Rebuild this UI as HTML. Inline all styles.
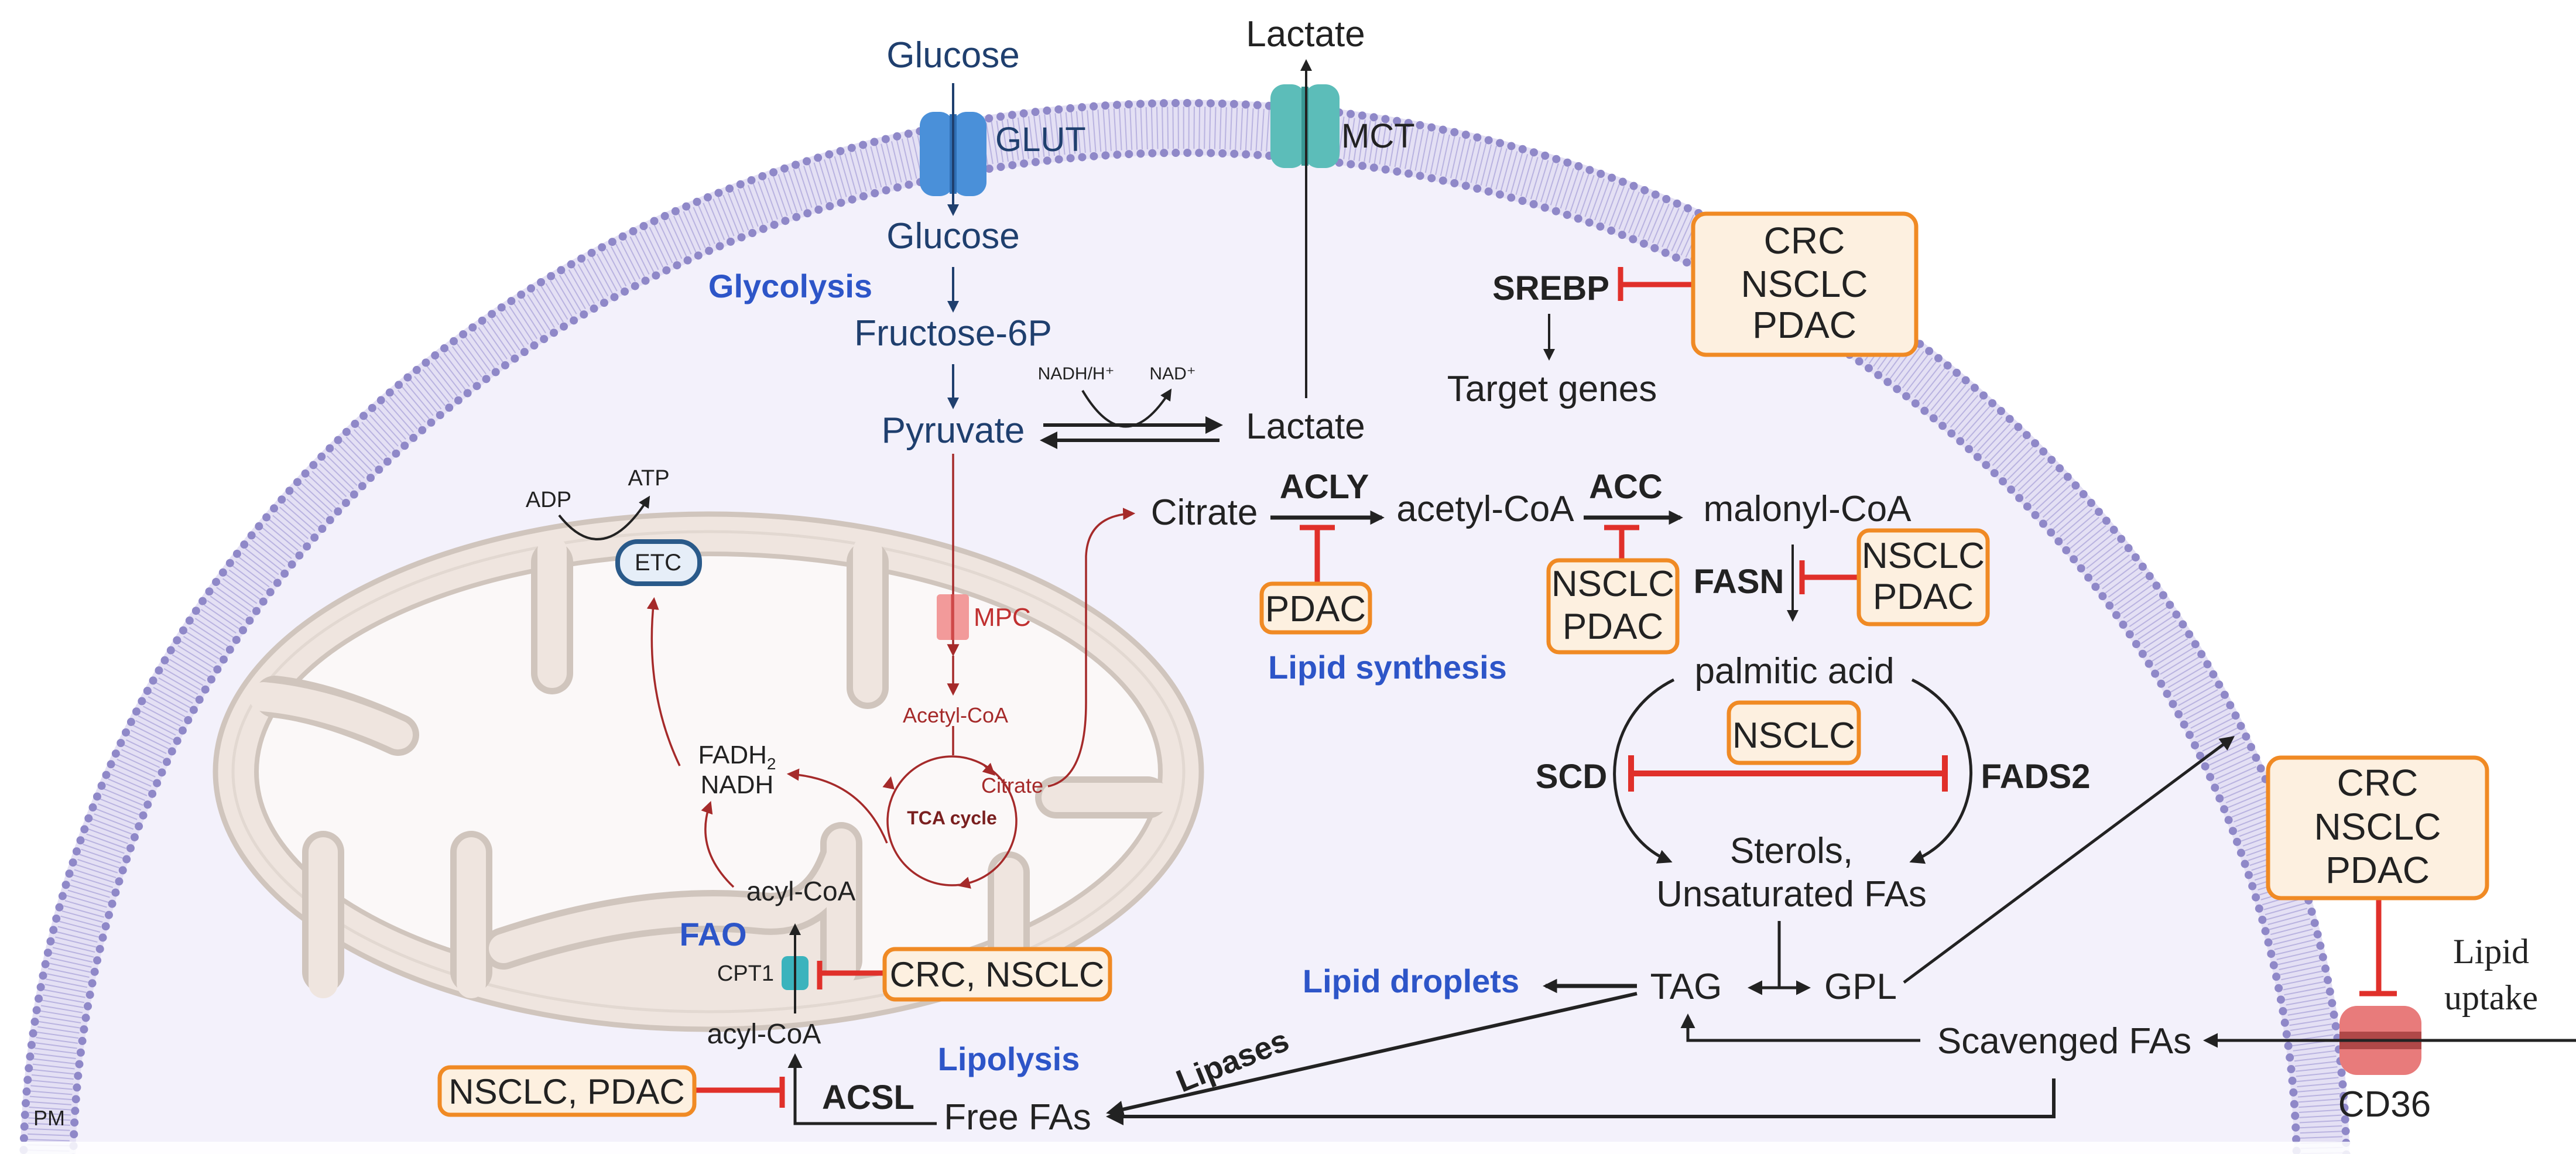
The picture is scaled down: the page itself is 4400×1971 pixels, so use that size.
<!DOCTYPE html>
<html><head><meta charset="utf-8"><style>
html,body{margin:0;padding:0;background:#fff;overflow:hidden}
svg{display:block}
text{font-family:"Liberation Sans",Arial,sans-serif}
</style></head><body>
<svg width="4400" height="1971" viewBox="0 0 4400 1971" xmlns="http://www.w3.org/2000/svg">
<defs>
<marker id="ak" viewBox="0 0 10 10" refX="8" refY="5" markerWidth="5" markerHeight="5" orient="auto-start-reverse" markerUnits="strokeWidth"><path d="M0,0 L10,5 L0,10 Z" fill="#222"/></marker>
<marker id="ak2" viewBox="0 0 10 10" refX="8" refY="5" markerWidth="3.5" markerHeight="3.5" orient="auto-start-reverse" markerUnits="strokeWidth"><path d="M0,0 L10,5 L0,10 Z" fill="#222"/></marker>
<marker id="an" viewBox="0 0 10 10" refX="8" refY="5" markerWidth="5" markerHeight="5" orient="auto" markerUnits="strokeWidth"><path d="M0,0 L10,5 L0,10 Z" fill="#1f3f6e"/></marker>
<marker id="ar" viewBox="0 0 10 10" refX="8" refY="5" markerWidth="6" markerHeight="6" orient="auto" markerUnits="strokeWidth"><path d="M0,0 L10,5 L0,10 Z" fill="#a52a2a"/></marker>
<clipPath id="mc"><ellipse cx="1210" cy="1318" rx="808" ry="406"/></clipPath>
</defs>
<rect width="4400" height="1971" fill="#fff"/>
<!-- cell -->
<ellipse cx="2024" cy="2000" rx="1942" ry="1782" fill="none" stroke="#e4e0f4" stroke-width="95"/>
<ellipse cx="2024" cy="2000" rx="1942" ry="1782" fill="none" stroke="#b9b3e0" stroke-width="72" stroke-dasharray="2 7"/>
<ellipse cx="2024" cy="2000" rx="1895" ry="1735" fill="#f3f1fb"/>
<ellipse cx="2024" cy="2000" rx="1984" ry="1824" fill="none" stroke="#8f88c8" stroke-width="14" stroke-dasharray="0 20" stroke-linecap="round"/>
<ellipse cx="2024" cy="2000" rx="1899" ry="1739" fill="none" stroke="#8f88c8" stroke-width="14" stroke-dasharray="0 20" stroke-linecap="round"/>
<rect x="0" y="1950" width="4400" height="21" fill="#fff" opacity="0.85"/>

<!-- mitochondrion -->
<ellipse cx="1210" cy="1318" rx="842" ry="440" fill="#efe5df" stroke="#d0c5bd" stroke-width="9"/>
<ellipse cx="1210" cy="1318" rx="812" ry="410" fill="none" stroke="#e2d8d1" stroke-width="5"/>
<ellipse cx="1210" cy="1318" rx="772" ry="372" fill="#fbf8f8" stroke="#d0c5bd" stroke-width="8"/>
<g clip-path="url(#mc)">
<path d="M760,1720 L860,1620 Q1100,1540 1300,1560 Q1400,1570 1437,1460 L1437,1720 Z" fill="#efe5df"/>
</g>
<g fill="none" stroke-linecap="round" stroke-linejoin="round">
<g stroke="#d0c5bd" stroke-width="72">
<path d="M943,960 L943,1150"/><path d="M1482,960 L1482,1175"/>
<path d="M470,1190 Q560,1200 680,1255"/>
<path d="M552,1660 L552,1455"/><path d="M805,1660 L805,1455"/>
<path d="M1437,1640 L1437,1440"/><path d="M1723,1640 L1723,1490"/>
<path d="M1960,1362 L1804,1362"/>
<path d="M860,1620 Q1100,1540 1300,1560 Q1400,1570 1437,1460"/>
</g>
<g stroke="#efe5df" stroke-width="50">
<path d="M943,940 L943,1150"/><path d="M1482,940 L1482,1175"/>
<path d="M450,1190 Q560,1200 680,1255"/>
<path d="M552,1680 L552,1455"/><path d="M805,1680 L805,1455"/>
<path d="M1437,1660 L1437,1440"/><path d="M1723,1660 L1723,1490"/>
<path d="M1980,1362 L1804,1362"/>
<path d="M860,1620 Q1100,1540 1300,1560 Q1400,1570 1437,1460"/>
</g>
</g>

<!-- transporters -->
<g>
<rect x="1571" y="191" width="58" height="144" rx="24" fill="#4a90d9"/>
<rect x="1627" y="191" width="58" height="144" rx="24" fill="#4a90d9"/>
<rect x="1622" y="195" width="12" height="136" fill="#2f6fb5"/>
<rect x="2170" y="144" width="60" height="143" rx="24" fill="#5cbdb9"/>
<rect x="2228" y="144" width="60" height="143" rx="24" fill="#5cbdb9"/>
<rect x="2223" y="148" width="12" height="135" fill="#3a9894"/>
<rect x="3996" y="1718" width="140" height="118" rx="30" fill="#e87b7b"/>
<rect x="3996" y="1762" width="140" height="30" fill="#b04848"/>
<rect x="1600" y="1015" width="55" height="78" rx="6" fill="#f29a9a"/>
<rect x="1335" y="1633" width="46" height="58" rx="10" fill="#3bb3bd"/>
</g>

<!-- navy glycolysis arrows -->
<g stroke="#1f3f6e" stroke-width="4" fill="none">
<path d="M1628,142 L1628,365" marker-end="url(#an)"/>
<path d="M1628,456 L1628,530" marker-end="url(#an)"/>
<path d="M1628,622 L1628,695" marker-end="url(#an)"/>
</g>
<!-- black arrows -->
<g stroke="#222" stroke-width="6" fill="none">
<path d="M1849,667 Q1922,790 1999,667" stroke-width="4" marker-end="url(#ak)"/>
<path d="M1782,726 L2083,726" marker-end="url(#ak)"/>
<path d="M2083,752 L1782,752" marker-end="url(#ak)"/>
<path d="M2231,680 L2231,105" stroke-width="4" marker-end="url(#ak)"/>
<path d="M2646,536 L2646,612" stroke-width="4" marker-end="url(#ak)"/>
<path d="M2170,884 L2360,884" stroke-width="7" marker-end="url(#ak2)"/>
<path d="M2705,884 L2870,884" stroke-width="7" marker-end="url(#ak2)"/>
<path d="M3062,930 L3062,1058" stroke-width="4" marker-end="url(#ak)"/>
<path d="M2859,1161 C2720,1230 2730,1420 2852,1471" stroke-width="5" marker-end="url(#ak)"/>
<path d="M3266,1161 C3405,1230 3395,1420 3266,1471" stroke-width="5" marker-end="url(#ak)"/>
<path d="M3039,1573 L3039,1687" stroke-width="5"/>
<path d="M2990,1687 L3088,1687" stroke-width="5" marker-start="url(#ak)" marker-end="url(#ak)"/>
<path d="M2796,1684 L2640,1684" stroke-width="7" marker-end="url(#ak2)"/>
<path d="M3252,1678 L3813,1260" stroke-width="5" marker-end="url(#ak)"/>
<path d="M4400,1777 L3768,1777" stroke-width="5" marker-end="url(#ak)"/>
<path d="M3280,1777 L2883,1777 L2883,1736" stroke-width="5" marker-end="url(#ak)"/>
<path d="M3508,1842 L3508,1907 L1895,1907" stroke-width="6" marker-end="url(#ak)"/>
<path d="M2796,1697 L1895,1900" stroke-width="6" marker-end="url(#ak)"/>
<path d="M1600,1919 L1358,1919 L1358,1804" stroke-width="5" marker-end="url(#ak)"/>
<path d="M1358,1731 L1358,1581" stroke-width="4" marker-end="url(#ak)"/>
<path d="M955,880 Q1030,975 1108,850" stroke-width="4" marker-end="url(#ak)"/>
</g>
<!-- mito red -->
<g stroke="#a52a2a" stroke-width="3.5" fill="none">
<path d="M1628,775 L1628,1117" marker-end="url(#ar)"/>
<path d="M1628,1120 L1628,1184" marker-end="url(#ar)"/>
<path d="M1628,1240 L1628,1290"/>
<circle cx="1626" cy="1402" r="110"/>
<path d="M1790,1343 Q1855,1330 1855,1200 L1855,950 Q1858,880 1935,877" marker-end="url(#ar)"/>
<path d="M1161,1308 Q1100,1180 1117,1024" marker-end="url(#ar)"/>
<path d="M1253,1515 Q1185,1450 1213,1372" marker-end="url(#ar)"/>
<path d="M1515,1440 Q1470,1330 1348,1322" marker-end="url(#ar)"/>
<path d="M1680,1306 L1697,1322" marker-end="url(#ar)"/>
<path d="M1655,1508 L1640,1512" marker-end="url(#ar)"/>
<path d="M1518,1345 L1521,1330" marker-end="url(#ar)"/>
<path d="M1627,1015 L1627,1093" stroke="#d04848" stroke-width="5"/>
</g>
<!-- red inhibitors -->
<g stroke="#e0302a" stroke-width="9" fill="none">
<path d="M2768,456 L2768,514 M2768,486 L2892,486"/>
<path d="M2220,901 L2280,901 M2250,901 L2250,997"/>
<path d="M2740,901 L2800,901 M2770,901 L2770,957"/>
<path d="M3078,957 L3078,1015 M3078,986 L3175,986"/>
<path d="M2786,1321 L3322,1321 M2786,1290 L2786,1352 M3322,1290 L3322,1352" stroke-width="10"/>
<path d="M4063,1534 L4063,1697 M4030,1697 L4094,1697"/>
<path d="M1400,1641 L1400,1690 M1400,1662 L1512,1662"/>
<path d="M1336,1839 L1336,1892 M1186,1862 L1336,1862"/>
</g>
<!-- ETC -->
<rect x="1055" y="925" width="140" height="72" rx="34" fill="#e6eef8" stroke="#2a5a8a" stroke-width="8"/>
<!-- boxes -->
<g fill="#fdf0e0" stroke="#f08a24" stroke-width="7">
<rect x="2892" y="365" width="381" height="241" rx="22"/>
<rect x="2155" y="997" width="185" height="83" rx="18"/>
<rect x="2645" y="957" width="220" height="157" rx="18"/>
<rect x="3175" y="906" width="220" height="160" rx="18"/>
<rect x="2953" y="1200" width="222" height="103" rx="18"/>
<rect x="3874" y="1294" width="374" height="240" rx="22"/>
<rect x="1511" y="1621" width="385" height="86" rx="18"/>
<rect x="751" y="1823" width="435" height="81" rx="18"/>
</g>

<!-- text -->
<g font-size="62" text-anchor="middle" fill="#1f3f6e">
<text x="1628" y="115">Glucose</text>
<text x="1628" y="424">Glucose</text>
<text x="1628" y="590">Fructose-6P</text>
<text x="1628" y="756">Pyruvate</text>
<text x="1700" y="258" text-anchor="start" font-size="58">GLUT</text>
</g>
<g font-size="62" text-anchor="middle" fill="#222">
<text x="2230" y="79">Lactate</text>
<text x="2230" y="749">Lactate</text>
<text x="2291" y="252" text-anchor="start" font-size="58">MCT</text>
<text x="2651" y="685">Target genes</text>
<text x="3082" y="433" font-size="64">CRC</text>
<text x="3082" y="507" font-size="64">NSCLC</text>
<text x="3082" y="577" font-size="64">PDAC</text>
<text x="2057" y="896">Citrate</text>
<text x="2537" y="890">acetyl-CoA</text>
<text x="3087" y="890">malonyl-CoA</text>
<text x="2247" y="1061">PDAC</text>
<text x="2755" y="1018">NSCLC</text>
<text x="2755" y="1091">PDAC</text>
<text x="3285" y="970">NSCLC</text>
<text x="3285" y="1040">PDAC</text>
<text x="3065" y="1167">palmitic acid</text>
<text x="3064" y="1277">NSCLC</text>
<text x="3060" y="1474">Sterols,</text>
<text x="3060" y="1548">Unsaturated FAs</text>
<text x="2880" y="1706">TAG</text>
<text x="3178" y="1706">GPL</text>
<text x="4061" y="1359" font-size="64">CRC</text>
<text x="4061" y="1434" font-size="64">NSCLC</text>
<text x="4061" y="1508" font-size="64">PDAC</text>
<text x="4073" y="1907">CD36</text>
<text x="3526" y="1799">Scavenged FAs</text>
<text x="1738" y="1929">Free FAs</text>
<text x="1703" y="1685" font-size="60">CRC, NSCLC</text>
<text x="968" y="1885" font-size="60">NSCLC, PDAC</text>
<text x="1305" y="1782" font-size="48">acyl-CoA</text>
<text x="1368" y="1538" font-size="46">acyl-CoA</text>
<text x="1322" y="1675" font-size="38" text-anchor="end">CPT1</text>
<text x="1259" y="1304" font-size="44">FADH<tspan font-size="28" dy="10">2</tspan></text>
<text x="1259" y="1355" font-size="44">NADH</text>
<text x="1124" y="974" font-size="40">ETC</text>
<text x="937" y="866" font-size="38">ADP</text>
<text x="1108" y="829" font-size="38">ATP</text>
<text x="84" y="1922" font-size="36">PM</text>
<text x="1838" y="648" font-size="30">NADH/H⁺</text>
<text x="2003" y="648" font-size="30">NAD⁺</text>
</g>
<g font-size="58" font-weight="bold" text-anchor="middle" fill="#222">
<text x="2649" y="512">SREBP</text>
<text x="2262" y="851">ACLY</text>
<text x="2777" y="851">ACC</text>
<text x="2970" y="1013">FASN</text>
<text x="2684" y="1346">SCD</text>
<text x="3477" y="1346">FADS2</text>
<text x="1483" y="1894">ACSL</text>
<text x="2105" y="1830" transform="rotate(-22 2105 1811)" font-size="54">Lipases</text>
</g>
<g font-size="56" font-weight="bold" text-anchor="middle" fill="#2d55c8">
<text x="1350" y="508">Glycolysis</text>
<text x="2370" y="1159">Lipid synthesis</text>
<text x="2410" y="1695">Lipid droplets</text>
<text x="1723" y="1828">Lipolysis</text>
<text x="1218" y="1615">FAO</text>
</g>
<g text-anchor="middle" fill="#a52a2a">
<text x="1632" y="1234" font-size="36">Acetyl-CoA</text>
<text x="1729" y="1354" font-size="36">Citrate</text>
<text x="1626" y="1408" font-size="32" font-weight="bold" fill="#7a1f1f">TCA cycle</text>
<text x="1663" y="1069" font-size="44" text-anchor="start" fill="#c03030">MPC</text>
</g>
<g font-size="60" text-anchor="middle" fill="#222">
<text x="4255" y="1645" style="font-family:'Liberation Serif',serif">Lipid</text>
<text x="4255" y="1724" style="font-family:'Liberation Serif',serif">uptake</text>
</g>
</svg>
</body></html>
